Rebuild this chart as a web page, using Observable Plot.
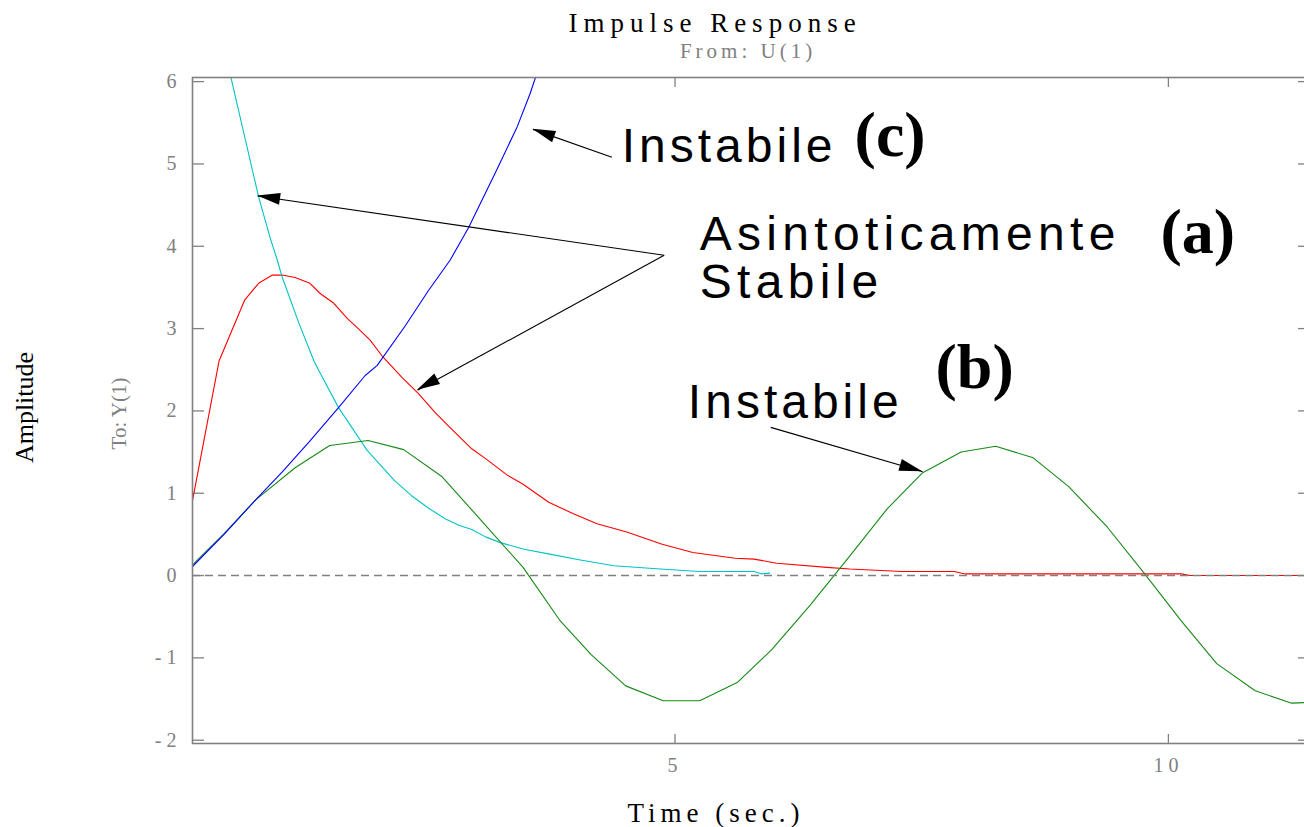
<!DOCTYPE html>
<html>
<head>
<meta charset="utf-8">
<script src="https://cdn.jsdelivr.net/npm/d3@7"></script>
<script src="https://cdn.jsdelivr.net/npm/@observablehq/plot@0.6"></script>
<style>
  html, body { margin: 0; padding: 0; background: #fff; overflow: hidden; }
  #chart { width: 1304px; height: 827px; overflow: hidden; }
  .spaced-title text { letter-spacing: 6px; }
  .spaced-sub text { letter-spacing: 4px; }
  .spaced-x text { letter-spacing: 5px; }
  .note text { letter-spacing: 4px; }
  .note-wide text { letter-spacing: 5.3px; }
  g[aria-label="x-axis tick label"] text { letter-spacing: 5px; }
</style>
</head>
<body>
<div id="chart"></div>
<script>
// Impulse responses of three systems: (a) asymptotically stable, (b) oscillating, (c) diverging.

// (a) asymptotically stable — red
const redT = [0.11, 0.38, 0.64, 0.78, 0.92, 1.02, 1.15, 1.30, 1.41, 1.54, 1.68, 1.79, 1.91, 2.03, 2.23, 2.40, 2.57, 2.71, 2.94, 3.08, 3.30, 3.46, 3.72, 3.97, 4.21, 4.51, 4.87, 5.18, 5.61, 5.80, 6.03, 6.54, 6.77, 7.30, 7.83, 7.94, 10.13, 10.22, 11.43];
const redV = [0.91, 2.61, 3.35, 3.55, 3.65, 3.65, 3.62, 3.55, 3.42, 3.31, 3.12, 3.00, 2.86, 2.67, 2.41, 2.21, 1.98, 1.81, 1.54, 1.42, 1.22, 1.11, 0.89, 0.75, 0.63, 0.53, 0.38, 0.28, 0.21, 0.20, 0.15, 0.10, 0.08, 0.05, 0.05, 0.02, 0.02, 0.00, 0.00];

// (a) asymptotically stable — cyan, fast decaying
const cyanT = [0.49, 0.78, 0.90, 0.97, 1.02, 1.19, 1.34, 1.39, 1.59, 1.88, 2.16, 2.33, 2.50, 2.67, 2.81, 2.94, 3.08, 3.23, 3.47, 3.73, 4.04, 4.38, 4.85, 5.25, 5.80, 5.88, 5.96];
const cyanV = [6.10, 4.60, 4.09, 3.83, 3.62, 3.06, 2.61, 2.49, 2.04, 1.52, 1.15, 0.97, 0.82, 0.69, 0.61, 0.56, 0.47, 0.40, 0.32, 0.26, 0.19, 0.12, 0.08, 0.05, 0.05, 0.02, 0.03];

// (b) unstable oscillation — green
const greenT = [0.11, 0.43, 0.75, 1.15, 1.50, 1.89, 2.25, 2.64, 3.08, 3.46, 3.83, 4.15, 4.50, 4.88, 5.25, 5.63, 5.98, 6.37, 6.76, 7.15, 7.51, 7.90, 8.25, 8.63, 8.99, 9.38, 9.76, 10.13, 10.49, 10.88, 11.25, 11.43];
const greenV = [0.13, 0.51, 0.92, 1.31, 1.58, 1.64, 1.53, 1.20, 0.61, 0.10, -0.54, -0.96, -1.34, -1.52, -1.52, -1.30, -0.90, -0.36, 0.22, 0.81, 1.25, 1.50, 1.57, 1.43, 1.08, 0.59, 0.02, -0.55, -1.07, -1.40, -1.55, -1.54];

// (c) unstable, diverging — blue
const blueT = [0.11, 0.43, 0.75, 1.02, 1.29, 1.59, 1.86, 1.98, 2.27, 2.50, 2.72, 2.91, 3.19, 3.40, 3.53, 3.60];
const blueV = [0.11, 0.50, 0.92, 1.26, 1.62, 2.04, 2.43, 2.55, 3.04, 3.46, 3.83, 4.23, 4.92, 5.45, 5.85, 6.10];

// Axis ticks
const xTicks = [5, 10];
const yTicks = [-2, -1, 0, 1, 2, 3, 4, 5, 6];

// Annotation labels and the arrows pointing at the curves
const noteText = ["Instabile", "Instabile"];
const noteT = [4.46, 5.13];
const noteV = [5.02, 1.91];
const stableText = ["Asintoticamente\nStabile"];
const stableT = [5.25];
const stableV = [3.37];
const tagText = ["(c)", "(a)", "(b)"];
const tagT = [6.82, 9.92, 7.64];
const tagV = [5.10, 3.92, 2.28];
const arrowFromT = [4.36, 4.89, 4.89, 5.97];
const arrowFromV = [5.08, 3.89, 3.89, 1.80];
const arrowToT = [3.56, 0.77, 2.39, 7.51];
const arrowToV = [5.42, 4.61, 2.25, 1.26];

const toRows = (T, V) => T.map((t, i) => ({t, v: V[i]}));
const arrows = arrowFromT.map((t, i) => ({x1: t, y1: arrowFromV[i], x2: arrowToT[i], y2: arrowToV[i]}));
const notes = noteText.map((s, i) => ({s, t: noteT[i], v: noteV[i]}));
const stable = stableText.map((s, i) => ({s, t: stableT[i], v: stableV[i]}));
const tags = tagText.map((s, i) => ({s, t: tagT[i], v: tagV[i]}));

// Filled arrowheads at the end of each annotation arrow
function arrowHeads(index, scales) {
  const g = d3.create("svg:g").attr("fill", "black");
  for (const a of arrows) {
    const x1 = scales.x(a.x1), y1 = scales.y(a.y1);
    const x2 = scales.x(a.x2), y2 = scales.y(a.y2);
    const ang = Math.atan2(y2 - y1, x2 - x1);
    const L = 23, W = 6;
    const bx = x2 - L * Math.cos(ang), by = y2 - L * Math.sin(ang);
    const px = -Math.sin(ang) * W, py = Math.cos(ang) * W;
    g.append("path").attr("d", `M${x2},${y2}L${bx + px},${by + py}L${bx - px},${by - py}Z`);
  }
  return g.node();
}

const fmtY = d => d < 0 ? "- " + Math.abs(d) : String(d);
const serif = "'Liberation Serif', 'Times New Roman', serif";
const sans = "'Liberation Sans', Arial, sans-serif";

const chart = Plot.plot({
  width: 1310,
  height: 827,
  marginLeft: 192,
  marginRight: 1,
  marginTop: 77,
  marginBottom: 84,
  style: {fontFamily: serif, fontSize: "20px", color: "#808080", background: "#fff", overflow: "visible", maxWidth: "none"},
  x: {domain: [0.11, 11.43]},
  y: {domain: [-2.04, 6.05]},
  marks: [
    Plot.axisY({anchor: "left", ticks: yTicks, tickSize: -12, tickPadding: 28, tickFormat: fmtY, label: null, strokeWidth: 1.3, fontSize: 20}),
    Plot.axisY({anchor: "right", ticks: yTicks, tickSize: -12, tickFormat: () => "", label: null, strokeWidth: 1.3}),
    Plot.axisX({anchor: "bottom", ticks: xTicks, tickSize: -9, tickPadding: 23, label: null, strokeWidth: 1.3, fontSize: 20}),
    Plot.axisX({anchor: "top", ticks: xTicks, tickSize: -9, tickFormat: () => "", label: null, strokeWidth: 1.3}),
    Plot.line(toRows(redT, redV), {x: "t", y: "v", stroke: "#ff0000", strokeWidth: 1.1, clip: true}),
    Plot.line(toRows(cyanT, cyanV), {x: "t", y: "v", stroke: "#00c4c4", strokeWidth: 1.1, clip: true}),
    Plot.line(toRows(greenT, greenV), {x: "t", y: "v", stroke: "#168a16", strokeWidth: 1.1, clip: true}),
    Plot.line(toRows(blueT, blueV), {x: "t", y: "v", stroke: "#0000ff", strokeWidth: 1.1, clip: true}),
    Plot.ruleY([0], {stroke: "#808080", strokeWidth: 1.6, strokeDasharray: "8,5"}),
    Plot.frame({stroke: "#808080", strokeWidth: 1.6}),
    Plot.link(arrows, {x1: "x1", y1: "y1", x2: "x2", y2: "y2", stroke: "black", strokeWidth: 1.1}),
    arrowHeads,
    Plot.text(notes, {x: "t", y: "v", text: "s", textAnchor: "start", lineAnchor: "bottom", fontFamily: sans, fontSize: 48, fill: "black", className: "note"}),
    Plot.text(stable, {x: "t", y: "v", text: "s", textAnchor: "start", lineAnchor: "bottom", lineHeight: 1.0, fontFamily: sans, fontSize: 48, fill: "black", className: "note-wide"}),
    Plot.text(tags, {x: "t", y: "v", text: "s", textAnchor: "start", lineAnchor: "bottom", fontFamily: serif, fontWeight: "bold", fontSize: 64, fill: "black"}),
    Plot.text(["Impulse Response"], {frameAnchor: "top", textAnchor: "middle", dx: -36, dy: -46, lineAnchor: "bottom", fontSize: 27, fill: "black", className: "spaced-title"}),
    Plot.text(["From: U(1)"], {frameAnchor: "top", textAnchor: "middle", dx: -3, dy: -20, lineAnchor: "bottom", fontSize: 21, fill: "#808080", className: "spaced-sub"}),
    Plot.text(["Time (sec.)"], {frameAnchor: "bottom", textAnchor: "middle", dx: -35, dy: 78, lineAnchor: "bottom", fontSize: 27, fill: "black", className: "spaced-x"}),
    Plot.text(["Amplitude"], {frameAnchor: "left", textAnchor: "middle", rotate: -90, dx: -168, dy: -3, lineAnchor: "middle", fontSize: 26, fill: "black"}),
    Plot.text(["To: Y(1)"], {frameAnchor: "left", textAnchor: "middle", rotate: -90, dx: -73, dy: 3, lineAnchor: "middle", fontSize: 21, fill: "#808080"})
  ]
});

document.getElementById("chart").appendChild(chart);
</script>
</body>
</html>
